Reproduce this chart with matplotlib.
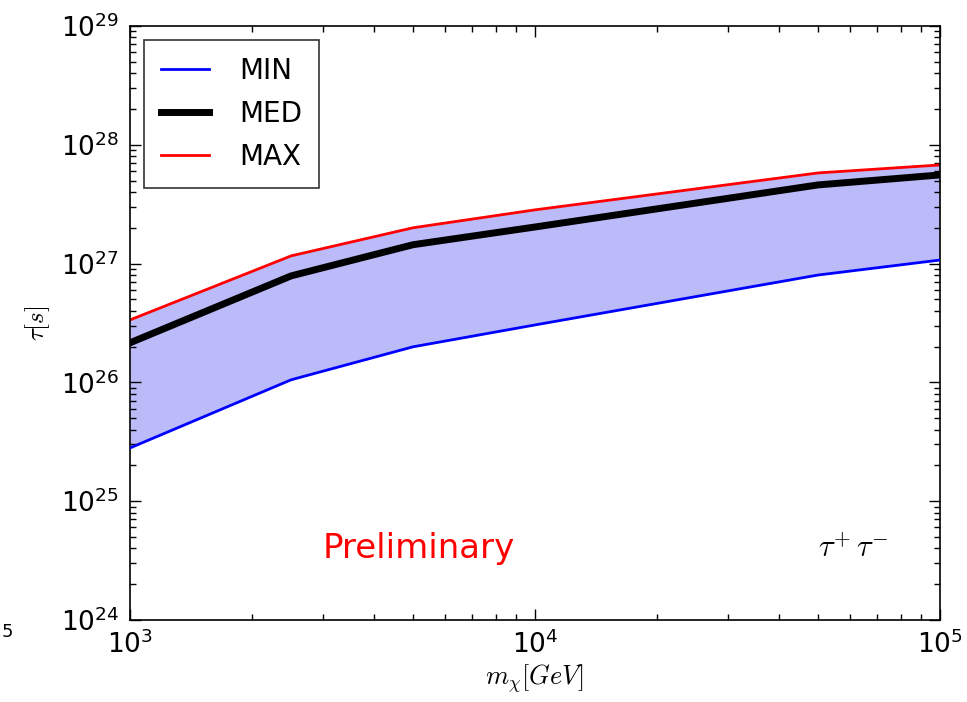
import matplotlib
matplotlib.use("Agg")
import matplotlib.pyplot as plt
import numpy as np

# Dark matter mass (GeV) and lifetime limits (s) for the tau+ tau- channel
mass = [1e3, 2.5e3, 5e3, 1e4, 5e4, 1e5]
tau_min = [2.8e25, 1.05e26, 1.99e26, 3.04e26, 8.0e26, 1.07e27]
tau_med = [2.15e26, 7.87e26, 1.44e27, 2.03e27, 4.59e27, 5.57e27]
tau_max = [3.35e26, 1.16e27, 2.0e27, 2.83e27, 5.79e27, 6.76e27]

plt.rcParams["mathtext.fontset"] = "cm"
plt.rcParams["font.family"] = "DejaVu Sans"

fig = plt.figure(figsize=(9.67, 7.02), dpi=100)
ax = fig.add_axes([0.1344, 0.117, 0.8376, 0.846])

ax.fill_between(mass, tau_min, tau_max, color="#bbbbfa", lw=0, zorder=1)
ax.plot(mass, tau_min, color="#0000ff", lw=2, label="MIN", zorder=3)
ax.plot(mass, tau_med, color="black", lw=5, label="MED", zorder=3)
ax.plot(mass, tau_max, color="#ff0000", lw=2, label="MAX", zorder=2)

ax.set_xscale("log")
ax.set_yscale("log")
ax.set_xlim(1e3, 1e5)
ax.set_ylim(1e24, 1e29)

ax.tick_params(which="both", direction="in", top=True, right=True,
               labelsize=19, width=1)
ax.tick_params(which="major", length=8, pad=8)
ax.tick_params(which="minor", length=4)
for s in ax.spines.values():
    s.set_linewidth(1.2)

ax.set_xlabel(r"$m_{\chi}[GeV]$", fontsize=19, labelpad=2)
ax.set_ylabel(r"$\tau[s]$", fontsize=18, labelpad=6)

leg = ax.legend(loc="upper left", fontsize=20, handlelength=1.75,
                borderpad=0.6, labelspacing=0.55, handletextpad=1.1,
                fancybox=False, frameon=True, bbox_to_anchor=(0.0, 1.0),
                borderaxespad=0.5)
leg.get_frame().set_edgecolor("black")
leg.get_frame().set_linewidth(1.2)

ax.text(0.356, 0.121, "Preliminary", color="#ff0000", fontsize=24.5,
        ha="center", va="center", transform=ax.transAxes)
ax.text(0.893, 0.121, r"$\tau^{+}\,\tau^{-}$", color="black", fontsize=22,
        ha="center", va="center", transform=ax.transAxes)

fig.text(0.002, 0.1, "5", fontsize=13, ha="left", va="center")

fig.savefig("out.png", dpi=100)
